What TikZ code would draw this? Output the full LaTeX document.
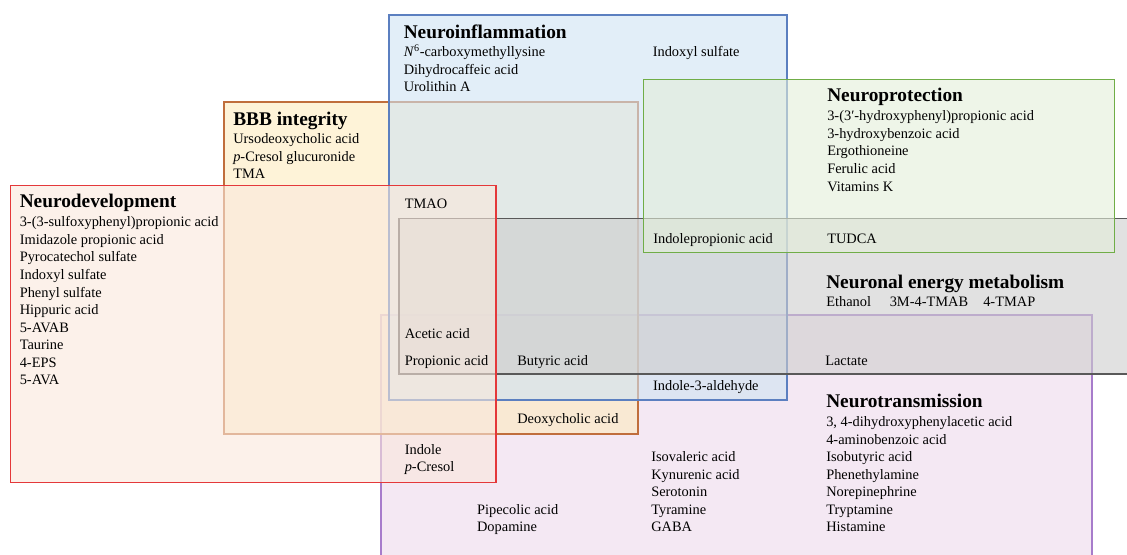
\documentclass[tikz,border=0pt]{standalone}
\usepackage{fontspec}
\setmainfont{Liberation Serif}
\definecolor{ntfill}{RGB}{237,217,235}
\definecolor{ntline}{RGB}{167,124,203}
\definecolor{bbbfill}{RGB}{253,235,190}
\definecolor{bbbline}{RGB}{192,110,60}
\definecolor{infill}{RGB}{207,227,243}
\definecolor{inline}{RGB}{91,127,192}
\definecolor{enfill}{RGB}{205,205,205}
\definecolor{enline}{RGB}{89,89,89}
\definecolor{devfill}{RGB}{250,232,220}
\definecolor{devline}{RGB}{228,56,58}
\definecolor{profill}{RGB}{227,238,217}
\definecolor{proline}{RGB}{112,173,71}
\begin{document}
\begin{tikzpicture}[x=0.75pt,y=-0.75pt,
  txt/.style={anchor=base west,inner sep=0pt,font=\fontsize{10.8}{13}\selectfont},
  head/.style={anchor=base west,inner sep=0pt,font=\fontsize{14.5}{17}\selectfont\bfseries},
  box/.style={line width=1pt,fill opacity=0.6}]
\clip (0,0) rectangle (1127,554);

% boxes, back to front
\draw[box,draw=ntline,fill=ntfill] (381,315) rectangle (1092,570);
\draw[box,draw=bbbline,fill=bbbfill] (224,102) rectangle (638,434);
\draw[box,draw=inline,fill=infill] (389,15) rectangle (787,400);
\draw[box,draw=enline,fill=enfill] (399,218.5) rectangle (1140,374);
\draw[box,draw=devline,fill=devfill] (10.5,185.5) rectangle (496,482.5);
\draw[box,draw=proline,fill=profill] (643.5,79.5) rectangle (1114.5,252.5);

% Neuroinflammation
\node[head] (inh) at (403.5,38.5) {Neuroinflammation};
\node[txt] (in1) at (403.5,56.5) {\textit{N}\textsuperscript{6}-carboxymethyllysine};
\node[txt] (in2) at (403.5,74.2) {Dihydrocaffeic acid};
\node[txt] (in3) at (403.5,91.8) {Urolithin A};
\node[txt] (in4) at (652.5,56.5) {Indoxyl sulfate};

% BBB integrity
\node[head] (bbbh) at (233,125) {BBB integrity};
\node[txt] (bbb1) at (233,143.3) {Ursodeoxycholic acid};
\node[txt] (bbb2) at (233,161) {\textit{p}-Cresol glucuronide};
\node[txt] (bbb3) at (233,178.5) {TMA};

% Neurodevelopment
\node[head] (devh) at (19.5,207) {Neurodevelopment};
\node[txt] (dev1) at (19.5,226.8) {3-(3-sulfoxyphenyl)propionic acid};
\node[txt] (dev2) at (19.5,244.4) {Imidazole propionic acid};
\node[txt] (dev3) at (19.5,261.9) {Pyrocatechol sulfate};
\node[txt] (dev4) at (19.5,279.5) {Indoxyl sulfate};
\node[txt] (dev5) at (19.5,297) {Phenyl sulfate};
\node[txt] (dev6) at (19.5,314.6) {Hippuric acid};
\node[txt] (dev7) at (19.5,332.1) {5-AVAB};
\node[txt] (dev8) at (19.5,349.7) {Taurine};
\node[txt] (dev9) at (19.5,367.2) {4-EPS};
\node[txt] (dev10) at (19.5,384.8) {5-AVA};

% Neuroprotection
\node[head] (proh) at (827,101.7) {Neuroprotection};
\node[txt] (pro1) at (827,120.7) {3-(3′-hydroxyphenyl)propionic acid};
\node[txt] (pro2) at (827,138.3) {3-hydroxybenzoic acid};
\node[txt] (pro3) at (827,155.9) {Ergothioneine};
\node[txt] (pro4) at (827,173.4) {Ferulic acid};
\node[txt] (pro5) at (827,191) {Vitamins K};
\node[txt] (pro6) at (653,243.3) {Indolepropionic acid};
\node[txt] (pro7) at (827,243.3) {TUDCA};

% Neuronal energy metabolism
\node[head] (enh) at (826,288.3) {Neuronal energy metabolism};
\node[txt] (en1) at (826,306) {Ethanol};
\node[txt] (en2) at (889.5,306) {3M-4-TMAB};
\node[txt] (en3) at (983,306) {4-TMAP};
\node[txt] (en4) at (825,365) {Lactate};

% shared
\node[txt] (s1) at (404.5,208.3) {TMAO};
\node[txt] (s2) at (404.5,338.3) {Acetic acid};
\node[txt] (s3) at (404.5,365) {Propionic acid};
\node[txt] (s4) at (517,365) {Butyric acid};
\node[txt] (s5) at (652.8,390.7) {Indole-3-aldehyde};
\node[txt] (s6) at (517,423.3) {Deoxycholic acid};
\node[txt] (s7) at (404.5,454) {Indole};
\node[txt] (s8) at (404.5,471.7) {\textit{p}-Cresol};

% Neurotransmission
\node[head] (nth) at (826,407.3) {Neurotransmission};
\node[txt] (nt1) at (826,426.7) {3, 4-dihydroxyphenylacetic acid};
\node[txt] (nt2) at (826,444.2) {4-aminobenzoic acid};
\node[txt] (nt3) at (826,461.7) {Isobutyric acid};
\node[txt] (nt4) at (826,479.2) {Phenethylamine};
\node[txt] (nt5) at (826,496.7) {Norepinephrine};
\node[txt] (nt6) at (826,514.2) {Tryptamine};
\node[txt] (nt7) at (826,531.7) {Histamine};
\node[txt] (nt8) at (651,461.7) {Isovaleric acid};
\node[txt] (nt9) at (651,479.2) {Kynurenic acid};
\node[txt] (nt10) at (651,496.7) {Serotonin};
\node[txt] (nt11) at (651,514.2) {Tyramine};
\node[txt] (nt12) at (651,531.7) {GABA};
\node[txt] (nt13) at (476.8,514.2) {Pipecolic acid};
\node[txt] (nt14) at (476.8,531.7) {Dopamine};
\end{tikzpicture}
\end{document}
